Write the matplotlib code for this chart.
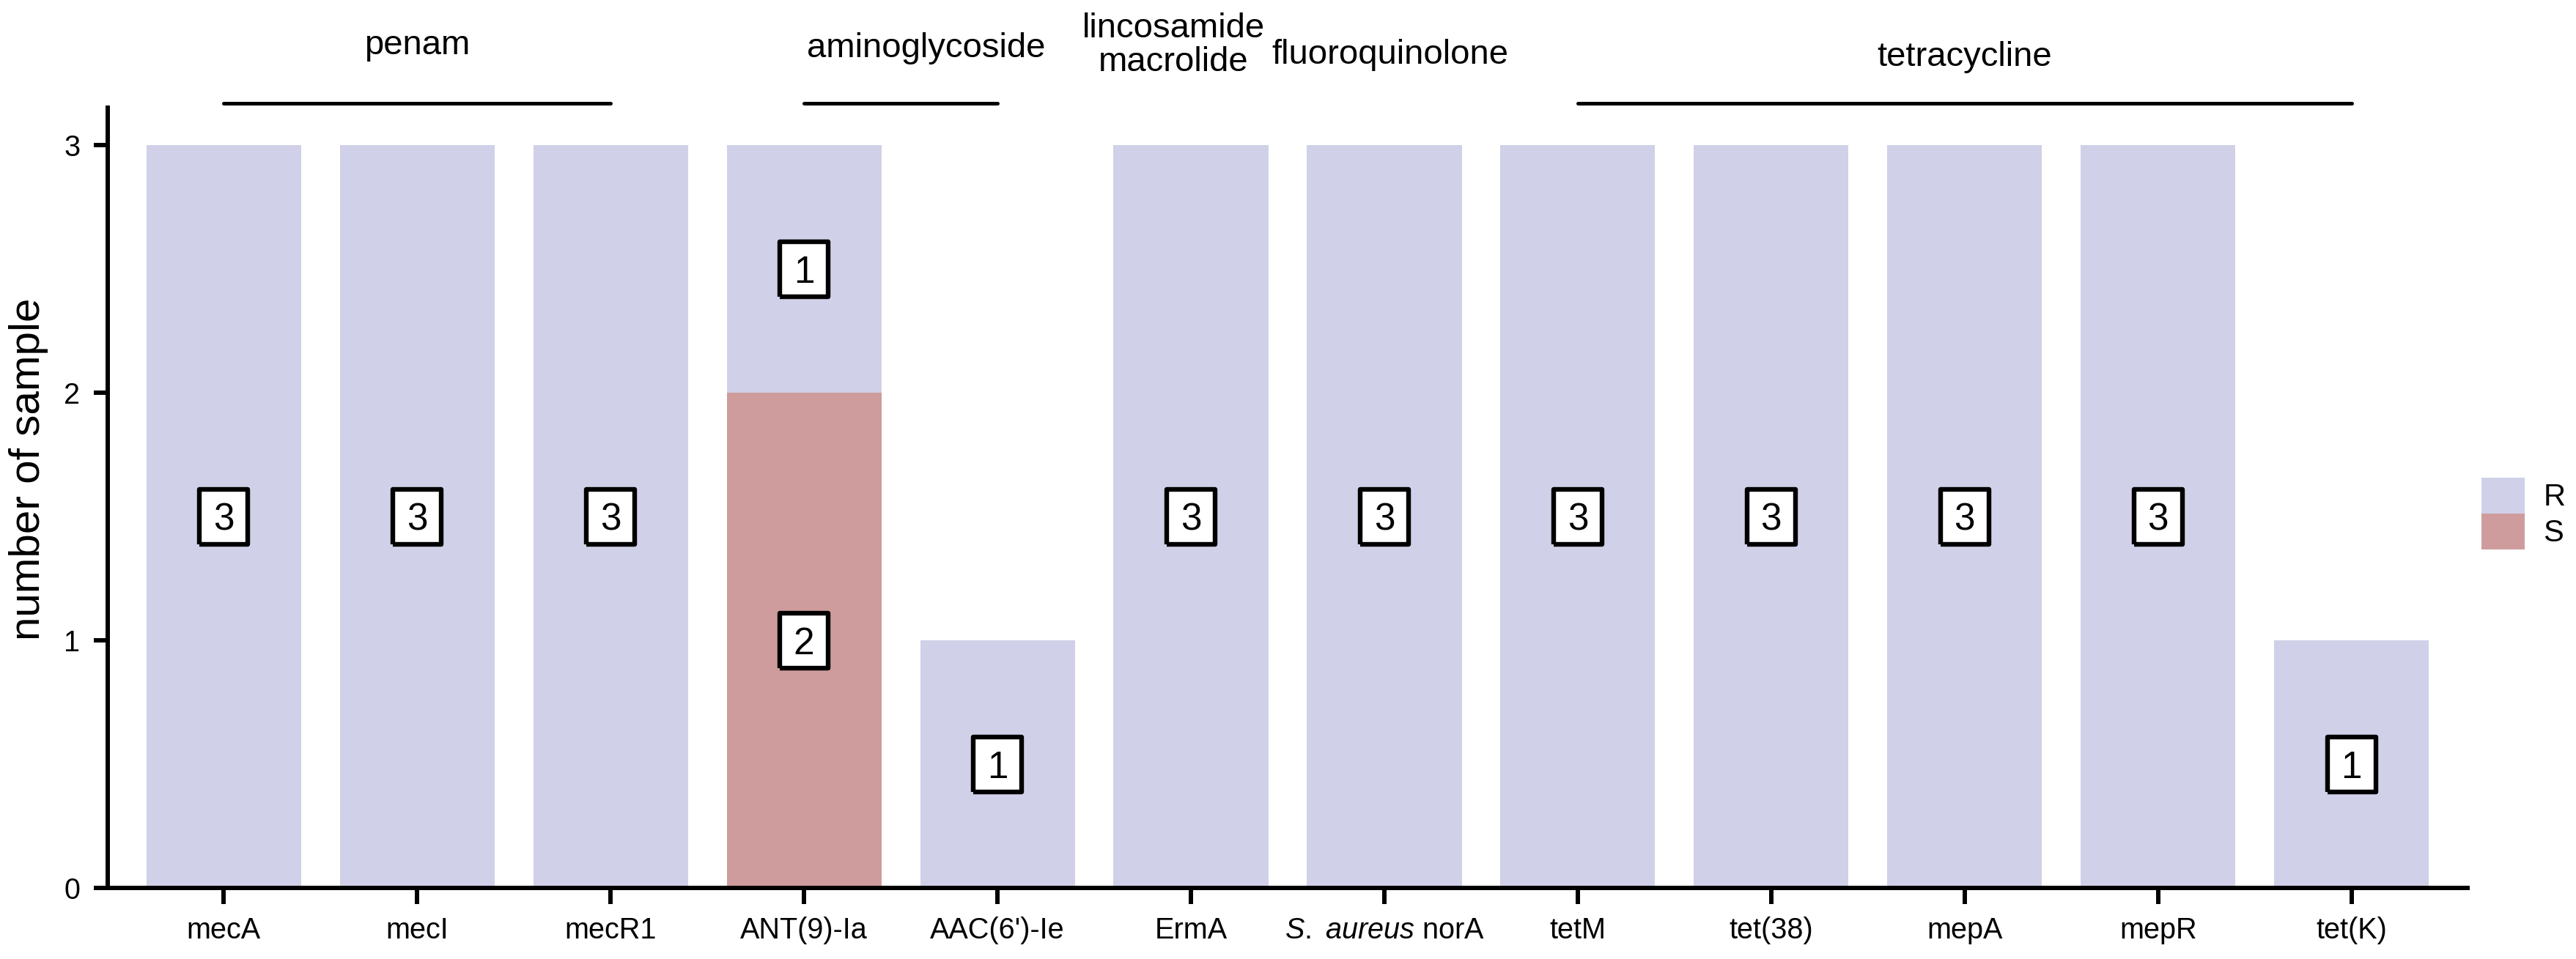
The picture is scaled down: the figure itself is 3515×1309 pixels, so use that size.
import matplotlib
matplotlib.use('Agg')
import matplotlib.pyplot as plt
import matplotlib.transforms as mtransforms
from matplotlib.markers import MarkerStyle
from matplotlib.patches import Patch

plt.rcParams['font.family'] = ['Liberation Sans', 'DejaVu Sans']
plt.rcParams['mathtext.fontset'] = 'custom'
plt.rcParams['mathtext.rm'] = 'Liberation Sans'
plt.rcParams['mathtext.it'] = 'Liberation Sans:italic'

genes = ['mecA', 'mecI', 'mecR1', 'ANT(9)-Ia', "AAC(6')-Ie", 'ErmA',
         r'$\mathit{S.\ aureus}$ norA', 'tetM', 'tet(38)', 'mepA', 'mepR', 'tet(K)']
r_counts = [3, 3, 3, 1, 1, 3, 3, 3, 3, 3, 3, 1]
s_counts = [0, 0, 0, 2, 0, 0, 0, 0, 0, 0, 0, 0]

group_names = ['penam', 'aminoglycoside', 'lincosamide\nmacrolide', 'fluoroquinolone', 'tetracycline']
group_first = [0, 3, 5, 6, 7]
group_last = [2, 4, 5, 6, 11]
group_label_x = [1.0, 3.63, 4.91, 6.03, 9.0]
group_label_px = [74, 78, 97, 87, 90]   # last-line baseline, pixels from top

R_COL = '#D0D0E8'
S_COL = '#CE9C9C'

W, H = 3516, 1309
fig = plt.figure(figsize=(W / 100, H / 100), dpi=100)
ax = fig.add_axes([147 / W, 1 - 1212 / H, (3367 - 147) / W, (1212 - 147) / H])

x = list(range(len(genes)))
ax.bar(x, s_counts, width=0.8, color=S_COL, linewidth=0, label='S')
ax.bar(x, r_counts, width=0.8, bottom=s_counts, color=R_COL, linewidth=0, label='R')

# label box: a bit taller than wide
box = MarkerStyle([(-0.44, -0.5), (0.44, -0.5), (0.44, 0.5), (-0.44, 0.5), (-0.44, -0.5)],
                  joinstyle='round')

for i in x:
    for base, val in [(0, s_counts[i]), (s_counts[i], r_counts[i])]:
        if val > 0:
            ax.plot(i, base + val / 2, marker=box, ms=54, mfc='white', mec='black',
                    mew=4.6, ls='none', zorder=3)
            ax.text(i, base + val / 2, str(val), ha='center', va='center_baseline',
                    fontsize=37, zorder=4)

ax.set_xlim(-0.6, 11.6)
ax.set_ylim(0, 3.15)
ax.set_xticks(x)
ax.set_xticklabels(genes, fontsize=28.5)
ax.set_yticks([0, 1, 2, 3])
ax.set_yticklabels(['0', '1', '2', '3'], fontsize=28.5)
ax.tick_params(axis='x', length=16, width=4.3, pad=12)
ax.tick_params(axis='y', length=14, width=4.3, pad=13)
for s in ['top', 'right']:
    ax.spines[s].set_visible(False)
for s in ['left', 'bottom']:
    ax.spines[s].set_linewidth(4.3)

fig.text(39 / W, 1 - 640 / H, 'number of sample', rotation=90,
         ha='center', va='center', fontsize=42)

# group annotations above the bars
trans = mtransforms.blended_transform_factory(ax.transData, fig.transFigure)
for name, a, b, lx, py in zip(group_names, group_first, group_last,
                              group_label_x, group_label_px):
    ax.text(lx, 1 - py / H, name, transform=trans, ha='center', va='baseline',
            fontsize=34, linespacing=1.05, multialignment='center')
    if b > a:
        ax.plot([a, b], [1 - 141 / H, 1 - 141 / H], transform=trans, color='black',
                lw=3.6, solid_capstyle='round', clip_on=False)

handles = [Patch(facecolor=R_COL, label='R'), Patch(facecolor=S_COL, label='S')]
fig.legend(handles=handles, loc='center left', bbox_to_anchor=(3386 / W, 1 - 701 / H),
           frameon=False, fontsize=30, handlelength=1.42, handleheight=1.42,
           labelspacing=0, handletextpad=0.6, borderpad=0, borderaxespad=0)

fig.savefig('out.png', dpi=100)
